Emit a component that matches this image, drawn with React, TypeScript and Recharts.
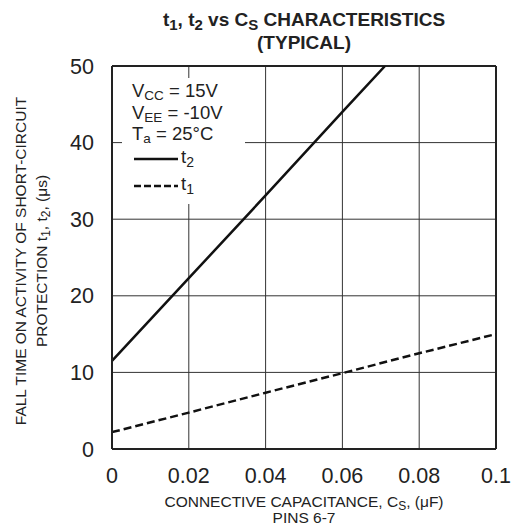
import { LineChart, Line, XAxis, YAxis, CartesianGrid, ReferenceLine } from 'recharts';

// values
const capT2 = [0, 0.02, 0.04, 0.06, 0.0711];
const t2Values = [11.5, 22.3, 33.1, 44, 50];
const capT1 = [0, 0.02, 0.04, 0.06, 0.08, 0.1];
const t1Values = [2.2, 4.75, 7.35, 9.9, 12.5, 15];
const xTicks = [0, 0.02, 0.04, 0.06, 0.08, 0.1];
const yTicks = [0, 10, 20, 30, 40, 50];

const t2Data = capT2.map((x, i) => ({ x, t: t2Values[i] }));
const t1Data = capT1.map((x, i) => ({ x, t: t1Values[i] }));

const FONT = 'Liberation Sans, Arial, Helvetica, sans-serif';
const INK = '#222';

const fmtX = (v: number) => (v === 0 ? '0' : v === 0.1 ? '0.1' : v.toFixed(2));

function Overlay() {
    return (
        <svg width={515} height={527} style={{ position: 'absolute', left: 0, top: 0, pointerEvents: 'none' }}
            fontFamily={FONT} fill={INK}>
            {/* title */}
            <text x={304} y={26} textAnchor='middle' fontSize={19} fontWeight='bold'>
                t<tspan fontSize={15} dy={4}>1</tspan><tspan dy={-4}>, t</tspan>
                <tspan fontSize={15} dy={4}>2</tspan><tspan dy={-4}> vs C</tspan>
                <tspan fontSize={15} dy={4}>S</tspan><tspan dy={-4}> CHARACTERISTICS</tspan>
            </text>
            <text x={304} y={49} textAnchor='middle' fontSize={19} fontWeight='bold'>(TYPICAL)</text>

            {/* legend box */}
            <rect x={122} y={78} width={123} height={126} fill='#fff' />
            <g fontSize={18.5}>
                <text x={132} y={97}>V<tspan fontSize={13.5} dy={3}>CC</tspan><tspan dy={-3}> = 15V</tspan></text>
                <text x={132} y={119}>V<tspan fontSize={13.5} dy={3}>EE</tspan><tspan dy={-3}> = -10V</tspan></text>
                <text x={132} y={140}>T<tspan fontSize={13.5} dy={3}>a</tspan><tspan dy={-3}> = 25°C</tspan></text>
                <line x1={134} x2={178} y1={159} y2={159} stroke='#111' strokeWidth={2.5} />
                <text x={181} y={163}>t<tspan fontSize={14} dy={4}>2</tspan></text>
                <line x1={134} x2={178} y1={186} y2={186} stroke='#111' strokeWidth={2.5} strokeDasharray='7 3' />
                <text x={181} y={190}>t<tspan fontSize={14} dy={4}>1</tspan></text>
            </g>

            {/* y axis title */}
            <g fontSize={15.5} textAnchor='middle'>
                <text transform='translate(25.5 261) rotate(-90)'>FALL TIME ON ACTIVITY OF SHORT-CIRCUIT</text>
                <text transform='translate(47 261) rotate(-90)'>
                    PROTECTION t<tspan fontSize={12} dy={3}>1</tspan><tspan dy={-3}>, t</tspan>
                    <tspan fontSize={12} dy={3}>2</tspan><tspan dy={-3}>, (μs)</tspan>
                </text>
            </g>

            {/* x axis title */}
            <g fontSize={15.5} textAnchor='middle'>
                <text x={304} y={507}>
                    CONNECTIVE CAPACITANCE, C<tspan fontSize={12} dy={3}>S</tspan><tspan dy={-3}>, (μF)</tspan>
                </text>
                <text x={304} y={523}>PINS 6-7</text>
            </g>
        </svg>
    );
}

export default function App() {
    return (
        <div style={{ position: 'absolute', left: 0, top: 0, width: 515, height: 527, background: '#fff' }}>
            <LineChart width={515} height={527} margin={{ top: 66, right: 19, bottom: 48, left: 0 }}>
                <CartesianGrid stroke='#333' strokeWidth={1} />
                <XAxis
                    type='number'
                    dataKey='x'
                    domain={[0, 0.1]}
                    ticks={xTicks}
                    tickFormatter={fmtX}
                    allowDataOverflow
                    height={30}
                    axisLine={{ stroke: INK, strokeWidth: 2 }}
                    tickLine={false}
                    tick={{ fill: INK, fontSize: 21.5, fontFamily: FONT }}
                    tickMargin={13}
                />
                <YAxis
                    type='number'
                    domain={[0, 50]}
                    ticks={yTicks}
                    allowDataOverflow
                    width={112}
                    axisLine={{ stroke: INK, strokeWidth: 2 }}
                    tickLine={false}
                    tick={{ fill: INK, fontSize: 21.5, fontFamily: FONT }}
                    tickMargin={12}
                />
                <ReferenceLine x={0.1} stroke={INK} strokeWidth={2} />
                <ReferenceLine y={50} stroke={INK} strokeWidth={2} />
                <Line data={t2Data} dataKey='t' type='linear' stroke='#111' strokeWidth={2.5}
                    dot={false} isAnimationActive={false} />
                <Line data={t1Data} dataKey='t' type='linear' stroke='#111' strokeWidth={2.5}
                    strokeDasharray='8 4' dot={false} isAnimationActive={false} />
            </LineChart>
            <Overlay />
        </div>
    );
}
